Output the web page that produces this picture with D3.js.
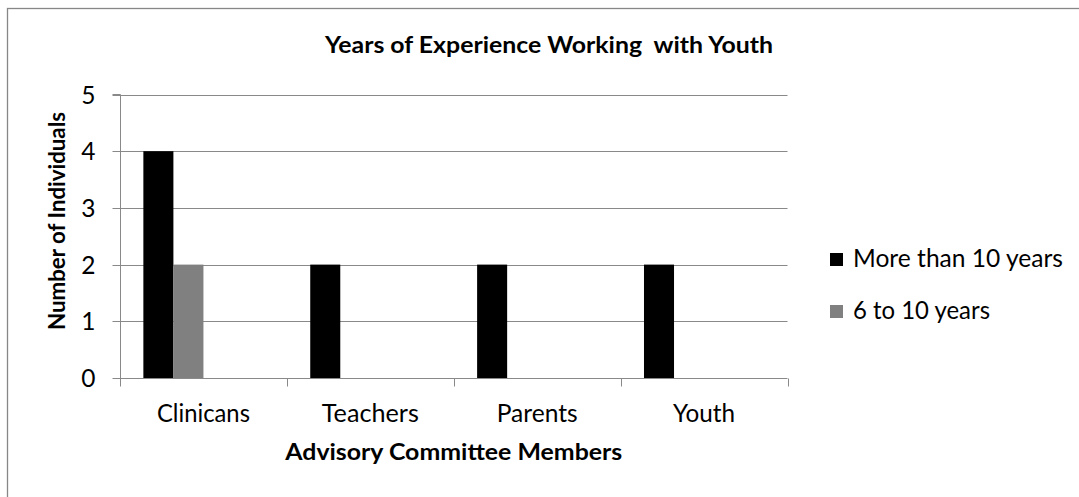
<!DOCTYPE html>
<html>
<head>
<meta charset="utf-8">
<script src="https://cdn.jsdelivr.net/npm/d3@7"></script>
<style>
  html, body { margin: 0; padding: 0; background: #fff; }
  svg { display: block; }
  text { font-family: Lato, "Open Sans", sans-serif; fill: #000; }
</style>
</head>
<body>
<script>
// Survey counts by advisory committee group
const categories = ["Clinicans", "Teachers", "Parents", "Youth"];
const seriesNames = ["More than 10 years", "6 to 10 years"];
const moreThan10 = [4, 2, 2, 2];
const sixTo10 = [2, 0, 0, 0];
const yTicks = [0, 1, 2, 3, 4, 5];
const seriesColors = ["#000000", "#808080"];

const W = 1079, H = 497;
const plot = { left: 120, right: 787.5, top: 94.5, bottom: 378 };
const gridColor = "#898989";
const labelSize = "24.5px";
const boldSize = "22.5px";

// target rendered widths so the text keeps the chart's proportions
const textWidths = {
  "Clinicans": 93, "Teachers": 97, "Parents": 81, "Youth": 62,
  "More than 10 years": 210, "6 to 10 years": 137
};

const svg = d3.select("body").append("svg")
  .attr("width", W).attr("height", H);

// outer chart frame
svg.append("rect")
  .attr("x", 7.5).attr("y", 8.5)
  .attr("width", W + 20).attr("height", H + 20)
  .attr("fill", "none").attr("stroke", "#878787").attr("stroke-width", 1.3);

const x0 = d3.scaleBand().domain(categories).range([plot.left, plot.right]).padding(0);
const x1 = d3.scaleBand().domain(seriesNames)
  .range([x0.bandwidth() * 0.14, x0.bandwidth() * 0.5]).padding(0);
const y = d3.scaleLinear().domain([0, 5]).range([plot.bottom, plot.top]);

// horizontal gridlines
svg.append("g").selectAll("line")
  .data(yTicks.filter(d => d > 0))
  .join("line")
  .attr("x1", plot.left).attr("x2", plot.right)
  .attr("y1", d => Math.round(y(d)) + 0.5).attr("y2", d => Math.round(y(d)) + 0.5)
  .attr("stroke", gridColor).attr("stroke-width", 1);

// bars
const rows = categories.map((c, i) => ({ cat: c, values: [moreThan10[i], sixTo10[i]] }));
const groups = svg.append("g").selectAll("g")
  .data(rows).join("g")
  .attr("transform", d => `translate(${x0(d.cat)},0)`);
groups.selectAll("rect")
  .data(d => d.values.map((v, j) => ({ key: seriesNames[j], v, j })))
  .join("rect")
  .attr("x", d => x1(d.key))
  .attr("width", x1.bandwidth())
  .attr("y", d => y(d.v))
  .attr("height", d => y(0) - y(d.v))
  .attr("fill", d => seriesColors[d.j]);

// y axis
const yAxis = svg.append("g")
  .attr("transform", `translate(${plot.left + 0.5},0)`)
  .call(d3.axisLeft(y).tickValues(yTicks).tickSize(8).tickPadding(17).tickFormat(d3.format("d")));
yAxis.select(".domain").attr("stroke", gridColor).attr("d", `M-8,${plot.top}H0V${plot.bottom + 0.5}`);
yAxis.selectAll(".tick line").attr("stroke", gridColor);
yAxis.selectAll(".tick text")
  .style("font-family", "Lato, sans-serif").style("font-size", labelSize)
  .attr("dy", "0.36em");
yAxis.selectAll(".tick").attr("transform", d => `translate(0,${Math.round(y(d)) + 0.5})`);

// x axis: category ticks sit at band edges
const xAxisG = svg.append("g").attr("transform", `translate(0,${Math.round(plot.bottom) + 0.5})`);
xAxisG.append("line")
  .attr("x1", plot.left).attr("x2", plot.right)
  .attr("stroke", gridColor);
const edges = categories.map(c => x0(c)).concat([x0.range()[1]]);
xAxisG.selectAll("line.edge").data(edges).join("line")
  .attr("class", "edge")
  .attr("x1", d => Math.round(d) + 0.5).attr("x2", d => Math.round(d) + 0.5)
  .attr("y1", 0).attr("y2", 8)
  .attr("stroke", gridColor);
xAxisG.selectAll("text").data(categories).join("text")
  .attr("x", d => x0(d) + x0.bandwidth() / 2)
  .attr("y", 43)
  .attr("text-anchor", "middle")
  .style("font-size", labelSize)
  .attr("textLength", d => textWidths[d])
  .attr("lengthAdjust", "spacingAndGlyphs")
  .text(d => d);

// titles
svg.append("text")
  .attr("x", 549).attr("y", 53)
  .attr("text-anchor", "middle")
  .style("font-size", boldSize).style("font-weight", "bold")
  .attr("textLength", 448).attr("lengthAdjust", "spacingAndGlyphs")
  .style("white-space", "pre")
  .text("Years of Experience Working  with Youth");

svg.append("text")
  .attr("x", (plot.left + plot.right) / 2).attr("y", 460)
  .attr("text-anchor", "middle")
  .style("font-size", boldSize).style("font-weight", "bold")
  .attr("textLength", 337).attr("lengthAdjust", "spacingAndGlyphs")
  .text("Advisory Committee Members");

svg.append("text")
  .attr("transform", "translate(65,221) rotate(-90)")
  .attr("text-anchor", "middle")
  .style("font-size", boldSize).style("font-weight", "bold")
  .attr("textLength", 218).attr("lengthAdjust", "spacingAndGlyphs")
  .text("Number of Individuals");

// legend
const legend = svg.append("g").selectAll("g")
  .data(seriesNames).join("g")
  .attr("transform", (d, i) => `translate(830,${253 + i * 52})`);
legend.append("rect")
  .attr("width", 13).attr("height", 13)
  .attr("fill", (d, i) => seriesColors[i]);
legend.append("text")
  .attr("x", 23).attr("y", 14)
  .style("font-size", labelSize)
  .attr("textLength", d => textWidths[d])
  .attr("lengthAdjust", "spacingAndGlyphs")
  .text(d => d);
</script>
</body>
</html>
